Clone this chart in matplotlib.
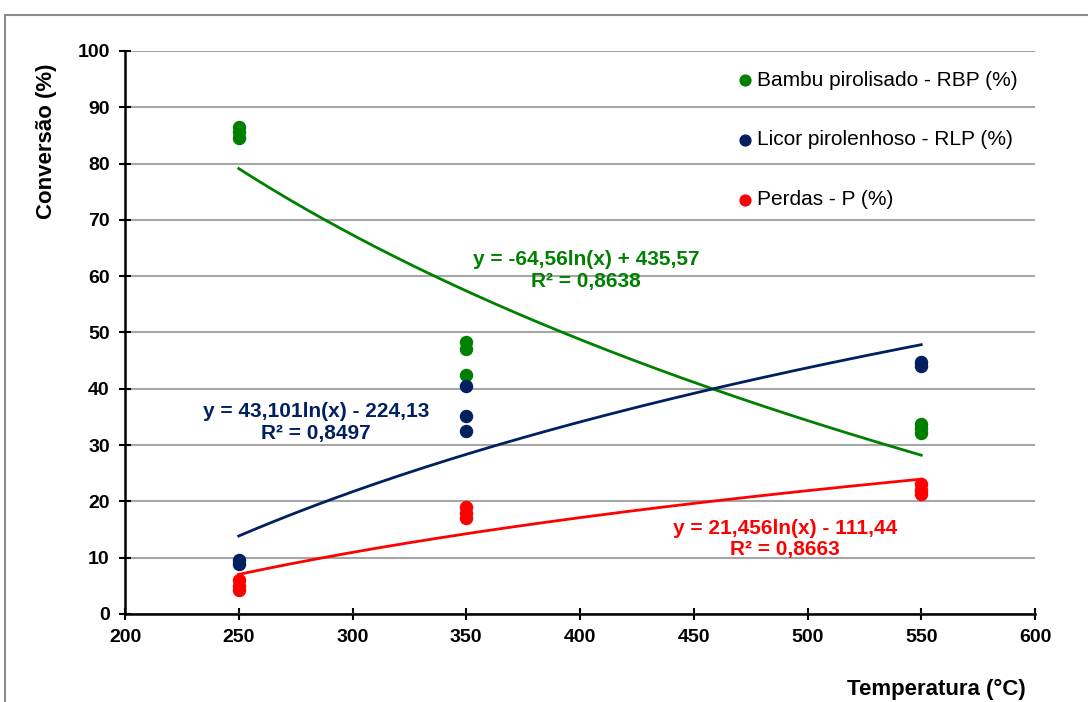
import numpy as np
import matplotlib.pyplot as plt
from matplotlib.patches import Rectangle

plt.rcParams['font.family'] = ['Liberation Sans', 'DejaVu Sans']

# measured points (temperature, conversion %)
temp_rbp = [250, 250, 250, 350, 350, 350, 550, 550, 550]
rbp = [86.5, 85.6, 84.6, 48.3, 47.0, 42.5, 33.8, 33.0, 32.2]
temp_rlp = [250, 250, 350, 350, 350, 550, 550]
rlp = [9.5, 8.9, 40.5, 35.2, 32.5, 44.8, 44.1]
temp_p = [250, 250, 250, 350, 350, 350, 550, 550, 550]
perdas = [6.0, 5.0, 4.2, 19.0, 18.0, 17.0, 23.0, 22.0, 21.3]

# logarithmic trend lines: y = a*ln(x) + b
fit_rbp = (-64.56, 435.57)
fit_rlp = (43.101, -224.13)
fit_p = (21.456, -111.44)

GREEN = '#008000'
NAVY = '#002060'
RED = '#FF0000'

fig = plt.figure(figsize=(10.88, 7.02), dpi=100)
ax = fig.add_axes([0.1149, 0.1254, 0.8364, 0.802])

# outer chart frame
fig.patches.append(Rectangle((0.0046, -0.02), 1.1, 0.9986, transform=fig.transFigure,
                             fill=False, edgecolor='#8c8c8c', linewidth=1.5))

xs = np.linspace(250, 550, 200)
for (a, b), c in [(fit_rbp, GREEN), (fit_rlp, NAVY), (fit_p, RED)]:
    ax.plot(xs, a * np.log(xs) + b, color=c, linewidth=2, zorder=3)

ax.scatter(temp_rbp, rbp, s=75, color=GREEN, zorder=4, label='Bambu pirolisado - RBP (%)')
ax.scatter(temp_rlp, rlp, s=75, color=NAVY, zorder=4, label='Licor pirolenhoso - RLP (%)')
ax.scatter(temp_p, perdas, s=75, color=RED, zorder=4, label='Perdas - P (%)')

ax.set_xlim(200, 600)
ax.set_ylim(0, 100)
ax.set_xticks(range(200, 601, 50))
ax.set_yticks(range(0, 101, 10))
ax.yaxis.grid(True, color='#a6a6a6', linewidth=1.5)
ax.set_axisbelow(True)
for s in ['top', 'right']:
    ax.spines[s].set_visible(False)
for s in ['left', 'bottom']:
    ax.spines[s].set_linewidth(1.8)
ax.tick_params(axis='both', direction='inout', length=8, width=1.5, labelsize=14, pad=7)
for lbl in ax.get_xticklabels() + ax.get_yticklabels():
    lbl.set_fontweight('bold')

ax.set_ylabel('Conversão (%)', fontsize=16, fontweight='bold')
ax.yaxis.set_label_coords(-0.075, 0.84)
ax.set_xlabel('Temperatura (°C)', fontsize=16, fontweight='bold')
ax.xaxis.set_label_coords(0.892, -0.115)

ann = dict(fontsize=15, fontweight='bold', ha='center', va='center', linespacing=1.15)
ax.text(402.6, 61.0, 'y = -64,56ln(x) + 435,57\nR² = 0,8638', color=GREEN, **ann)
ax.text(284.0, 34.0, 'y = 43,101ln(x) - 224,13\nR² = 0,8497', color=NAVY, **ann)
ax.text(490, 13.3, 'y = 21,456ln(x) - 111,44\nR² = 0,8663', color=RED, **ann)

ax.legend(loc='upper left', bbox_to_anchor=(0.651, 1.0), frameon=False, fontsize=15,
          labelspacing=1.95, handlelength=0.7, handletextpad=0.25, borderaxespad=0.55,
          scatterpoints=1, markerscale=0.9)

fig.savefig('out.png', dpi=100)
